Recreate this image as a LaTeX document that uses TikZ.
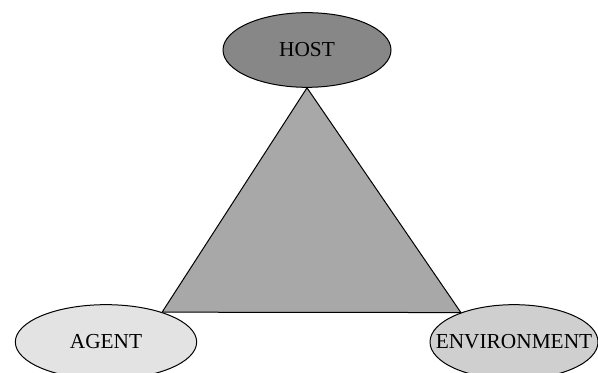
\documentclass[tikz,border=0pt]{standalone}
\usepackage{fontspec}
\setmainfont{Liberation Serif}
\usetikzlibrary{shapes.geometric}

\begin{document}
\begin{tikzpicture}[x=0.75pt,y=-0.75pt,
corner/.style={
  ellipse,
  draw=black,
  line width=0.75pt,
  inner sep=0pt,
  font={\fontsize{16pt}{18pt}\selectfont},
  minimum width=126pt,
  minimum height=56pt},
triangle/.style={
  draw=black,
  line width=0.75pt,
  line join=miter,
  fill=black!34},
]
\useasboundingbox (0,0) rectangle (598,373);

\node[corner,fill=black!47] (HOST) at (307,50) {HOST};
\node[corner,fill=black!11,minimum width=136pt] (AGENT) at (106,342) {AGENT};
\node[corner,fill=black!19] (ENV) at (514,342) {\makebox[0pt]{ENVIRONMENT}};

\filldraw[triangle] (HOST.south) -- (ENV.151) -- (AGENT.28) -- cycle;

\end{tikzpicture}
\end{document}
